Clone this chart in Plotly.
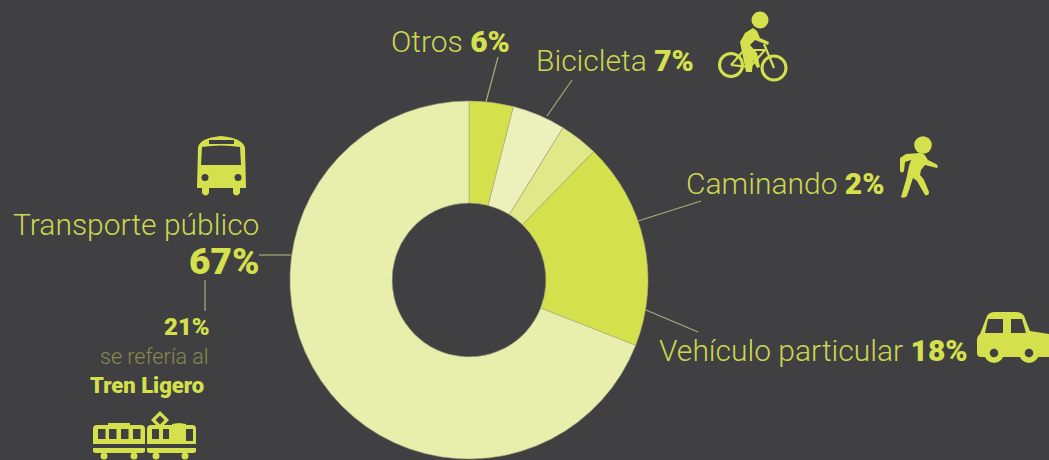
import plotly.graph_objects as go

labels = ["Otros", "Bicicleta", "Caminando", "Vehículo particular", "Transporte público"]
values = [4.0, 4.8, 3.45, 18.7, 69.05]
colors = ["#d4e04c", "#ecf0bb", "#e0e88a", "#d4e04c", "#e8eeab"]
BG = "#404042"
FG = "#d4e04c"
TXT = "#cbd74f"
LINE = "#a9ab78"

fig = go.Figure(go.Pie(
    labels=labels, values=values, sort=False, direction="clockwise", rotation=0,
    hole=0.43, textinfo="none", hoverinfo="label",
    marker=dict(colors=colors, line=dict(color="#a8ab7c", width=0.6)),
    domain=dict(x=[290/1049, 648/1049], y=[1/460, 359/460]),
    showlegend=False))

shapes = []
def line(x0, y0, x1, y1, color=LINE, w=1.2):
    shapes.append(dict(type="line", xref="x", yref="y", x0=x0, y0=y0, x1=x1, y1=y1,
                       line=dict(color=color, width=w)))
def path(d, fill=FG, lc=None, w=0):
    shapes.append(dict(type="path", xref="x", yref="y", path=d, fillcolor=fill,
                       line=dict(color=lc or fill, width=w)))
def stroke(d, w=3, color=FG):
    shapes.append(dict(type="path", xref="x", yref="y", path=d, fillcolor="rgba(0,0,0,0)",
                       line=dict(color=color, width=w)))
def circ(cx, cy, r, fill=FG, lc=None, w=0):
    shapes.append(dict(type="circle", xref="x", yref="y", x0=cx-r, x1=cx+r, y0=cy-r, y1=cy+r,
                       fillcolor=fill, line=dict(color=lc or fill, width=w)))
def rect(x0, y0, x1, y1, fill=BG):
    shapes.append(dict(type="rect", xref="x", yref="y", x0=x0, x1=x1, y0=y0, y1=y1,
                       fillcolor=fill, line=dict(width=0)))

# leader lines
line(498, 57, 486, 102)
line(572, 80, 547, 116)
line(701, 201, 638, 221)
line(698, 332, 646, 310)
line(259, 255, 291, 255)
line(205, 280, 205, 311)

# bus
path("M198 148 Q199 138 221 136 Q243 138 245 148 L246 188 L240 188 L240 193 Q236 198 233 193 L233 188 L209 188 L209 193 Q206 198 202 193 L202 188 L197 188 Z")
path("M202 147 Q221 144 240 147 L241 165 L201 165 Z", fill=BG)
rect(209, 140, 234, 144)
circ(205, 177.5, 3.5, fill=BG)
circ(238, 177.5, 3.5, fill=BG)

# tram
path("M93 429 Q93 425 97 425 L108 425 L108 423 L130 423 L130 425 L141 425 Q145 425 145 429 L145 444 L93 444 Z")
path("M93 448 L145 448 L145 451 Q145 453 141 453 L97 453 Q93 453 93 451 Z")
circ(104, 456, 3.5); circ(134, 456, 3.5)
for x0 in (98, 109, 121, 133):
    rect(x0, 429, x0+7.5, 439)
path("M147 429 Q147 425 151 425 L172 425 L172 424 L179 423 L186 424 L186 425 L192 425 Q196 425 196 429 L196 444 L147 444 Z")
path("M147 448 L196 448 L196 451 Q196 453 192 453 L151 453 Q147 453 147 451 Z")
circ(156, 456, 3.5); circ(185, 456, 3.5)
rect(152, 429, 159, 439); rect(163, 429, 169, 439); rect(186, 429, 193, 441)
path("M160 411 L151 420 L160 429 L169 420 Z")
path("M160 415.5 L155.5 420 L160 424.5 L164.5 420 Z", fill=BG)

# bike
circ(760, 20, 8.5)
circ(731, 65, 11.5, fill=BG, lc=FG, w=3)
circ(774, 68, 12, fill=BG, lc=FG, w=3)
stroke("M731 65 L744 50 L765 50", w=2.2)
stroke("M731 65 L750 67 L765 50", w=2.2)
stroke("M764 44 L774 68", w=2.2)
path("M753 28 L745 33 L740 42 L742 52 L746 72 L752 72 L753 60 L757 68 L760 67 L757 53 L750 45 L755 40 L768 45 L769 42 L760 38 L757 31 Z")

# walker
circ(923, 145, 8.8)
path("M906 154 L920 153 Q924 153 926 157 L928 160 L936 164 Q939 166 937 168 L925 165 L921 170 L920 175 Q923 178 924 180 L929 192 Q929 196 925 195 L917 181 L913 178 L907 196 Q904 199 901 197 L906 180 L909 166 L911 160 L905 162 L904 171 Q902 174 900 171 L900 158 Z")

# car
path("M977 339 Q977 336 980 334 L987 316 Q989 312 995 312 L1016 312 Q1022 312 1024 316 L1030 331 L1049 334 L1049 357 L981 357 Q977 357 977 353 Z")
path("M988 319 L1003 319 L1003 333 L985 333 Z", fill=BG)
path("M1011 319 L1022 319 L1026 333 L1011 333 Z", fill=BG)
circ(994, 353, 10); circ(1029, 353, 10)
circ(994, 353, 4.3, fill=BG); circ(1029, 353, 4.3, fill=BG)

ann = []
B = "<span style='font-weight:900;color:#d4e04c'>%s</span>"
def text(x, y, s, size, anchor="left", color=TXT, weight=300):
    ann.append(dict(x=x, y=y, xref="x", yref="y", text=s, showarrow=False, xanchor=anchor,
                    yanchor="middle", align=anchor,
                    font=dict(family="Roboto", size=size, color=color, weight=weight)))

text(388.5, 41, "Otros " + B % "6%", 30)
text(533.5, 60, "Bicicleta " + B % "7%", 30)
text(683.5, 183, "Caminando " + B % "2%", 30)
text(656.5, 350, "Vehículo particular " + B % "18%", 30)
text(261, 224, "Transporte público", 30, "right")
text(261, 261, "67%", 37, "right", FG, 900)
text(212, 327, "21%", 24, "right", FG, 900)
text(211, 356, "se refería al", 21.5, "right", "#858a4c")
text(206, 385, "Tren Ligero", 22, "right", FG, 900)

fig.update_layout(
    width=1049, height=460, margin=dict(l=0, r=0, t=0, b=0),
    paper_bgcolor=BG, plot_bgcolor=BG, shapes=shapes, annotations=ann,
    xaxis=dict(range=[0, 1049], visible=False, domain=[0, 1], fixedrange=True),
    yaxis=dict(range=[460, 0], visible=False, domain=[0, 1], fixedrange=True),
    showlegend=False)
fig.add_trace(go.Scatter(x=[0, 1049], y=[0, 460], mode="markers", marker=dict(opacity=0), hoverinfo="skip", showlegend=False))
fig.write_html("out.html", config={"displayModeBar": False},
               post_script="document.body.style.margin='0';document.body.style.background='#404042';document.documentElement.style.overflow='hidden';")
